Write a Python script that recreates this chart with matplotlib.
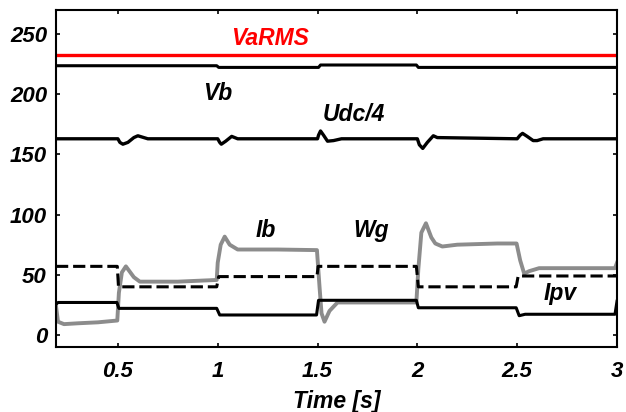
import matplotlib
matplotlib.use("Agg")
import matplotlib.pyplot as plt

# ---- data ----
t_varms = [0.19, 3.0]
varms = [232.5, 232.5]

t_vb = [0.19, 0.995, 1.005, 1.505, 1.515, 1.995, 2.005, 3.0]
vb = [223.7, 223.7, 222.3, 222.3, 224.3, 224.3, 222.3, 222.3]

t_udc = [0.19, 0.50, 0.51, 0.525, 0.55, 0.58, 0.60, 0.65, 1.0, 1.01, 1.018, 1.04,
         1.07, 1.10, 1.50, 1.505, 1.515, 1.53, 1.55, 1.58, 1.62, 2.0, 2.01, 2.027,
         2.05, 2.08, 2.10, 2.5, 2.515, 2.527, 2.55, 2.58, 2.60, 2.63, 3.0]
udc4 = [163, 163, 160, 158.5, 160, 164, 165.5, 163, 163, 160, 158.5, 161,
        165, 163, 163, 166, 169.5, 166, 161, 161.5, 163, 163, 158, 155,
        160, 165.5, 164, 163, 166, 167.5, 165, 161.5, 161.5, 163, 163]

t_ib = [0.19, 0.20, 0.23, 0.30, 0.40, 0.497, 0.505, 0.52, 0.54, 0.58, 0.61, 0.80,
        0.995, 1.0, 1.015, 1.035, 1.06, 1.08, 1.10, 1.30, 1.497, 1.51, 1.52, 1.535,
        1.56, 1.60, 1.80, 1.995, 2.005, 2.02, 2.043, 2.07, 2.09, 2.125, 2.20, 2.40,
        2.497, 2.515, 2.535, 2.56, 2.61, 2.70, 2.99, 3.0]
ib = [24, 11, 9, 9.7, 10.5, 12, 35, 52, 57, 48, 44.3, 44.3,
      45.7, 60, 75, 81.7, 75, 73, 71, 71, 70.5, 40, 18, 11,
      20, 27, 27, 27, 55, 85, 92.8, 81, 76, 73.5, 75, 76,
      76, 62, 51, 53, 55.5, 55.5, 55.5, 60]

t_wg = [0.19, 0.497, 0.503, 0.995, 1.005, 1.497, 1.503, 1.995, 2.005, 2.495, 2.505, 3.0]
wg = [57, 57, 40, 40, 48.5, 48.5, 57, 57, 40, 40, 49, 49]

t_ipv = [0.19, 0.20, 0.495, 0.505, 0.995, 1.01, 1.495, 1.505, 1.995, 2.005,
         2.495, 2.51, 2.54, 2.99, 3.0]
ipv = [25.5, 27, 27, 22.1, 22.1, 16.6, 16.6, 28.8, 28.8, 22.6,
       22.6, 16, 17.2, 17.2, 28]

xticks = [0.5, 1, 1.5, 2, 2.5, 3]
xticklabels = ["0.5", "1", "1.5", "2", "2.5", "3"]
yticks = [0, 50, 100, 150, 200, 250]
yticklabels = ["0", "50", "100", "150", "200", "250"]

plt.rcParams['font.family'] = ['Liberation Sans', 'DejaVu Sans']

fig = plt.figure(figsize=(6.26, 4.12), dpi=100)
ax = fig.add_axes([56/626, 65/412, (617-56)/626, (347-10)/412])

ax.plot(t_varms, varms, color='#ff0000', lw=2.4, solid_capstyle='butt')
ax.plot(t_vb, vb, color='black', lw=2.2)
ax.plot(t_udc, udc4, color='black', lw=2.4)
ax.plot(t_ib, ib, color='#8c8c8c', lw=2.8)
ax.plot(t_wg, wg, color='black', lw=2.2, dashes=(4, 1.6))
ax.plot(t_ipv, ipv, color='black', lw=2.2)

ax.set_xlim(0.19, 3.0)
ax.set_ylim(-10, 270)
ax.set_xticks(xticks)
ax.set_xticklabels(xticklabels)
ax.set_yticks(yticks)
ax.set_yticklabels(yticklabels)

fs_tick = 16
fs_txt = 16.5
ax.tick_params(direction='in', length=3, width=1.2, top=True, right=True,
               labelsize=fs_tick)
ax.tick_params(axis='x', pad=10)
ax.tick_params(axis='y', pad=6.5)
for lab in ax.get_xticklabels() + ax.get_yticklabels():
    lab.set_fontweight('bold')
    lab.set_fontstyle('italic')
for sp in ax.spines.values():
    sp.set_linewidth(1.5)

ax.set_xlabel("Time [s]", fontsize=fs_txt, fontweight='bold', fontstyle='italic',
              labelpad=5.5)

tkw = dict(fontsize=fs_txt, fontweight='bold', fontstyle='italic', ha='center',
           va='baseline')
ax.text(1.26, 240.9, "VaRMS", color='#ff0000', **tkw)
ax.text(1.0, 195.2, "Vb", color='black', **tkw)
ax.text(1.684, 178, "Udc/4", color='black', **tkw)
ax.text(1.24, 81.4, "Ib", color='black', **tkw)
ax.text(1.771, 81.6, "Wg", color='black', **tkw)
ax.text(2.714, 29.1, "Ipv", color='black', **tkw)

fig.savefig("out.png", dpi=100)
